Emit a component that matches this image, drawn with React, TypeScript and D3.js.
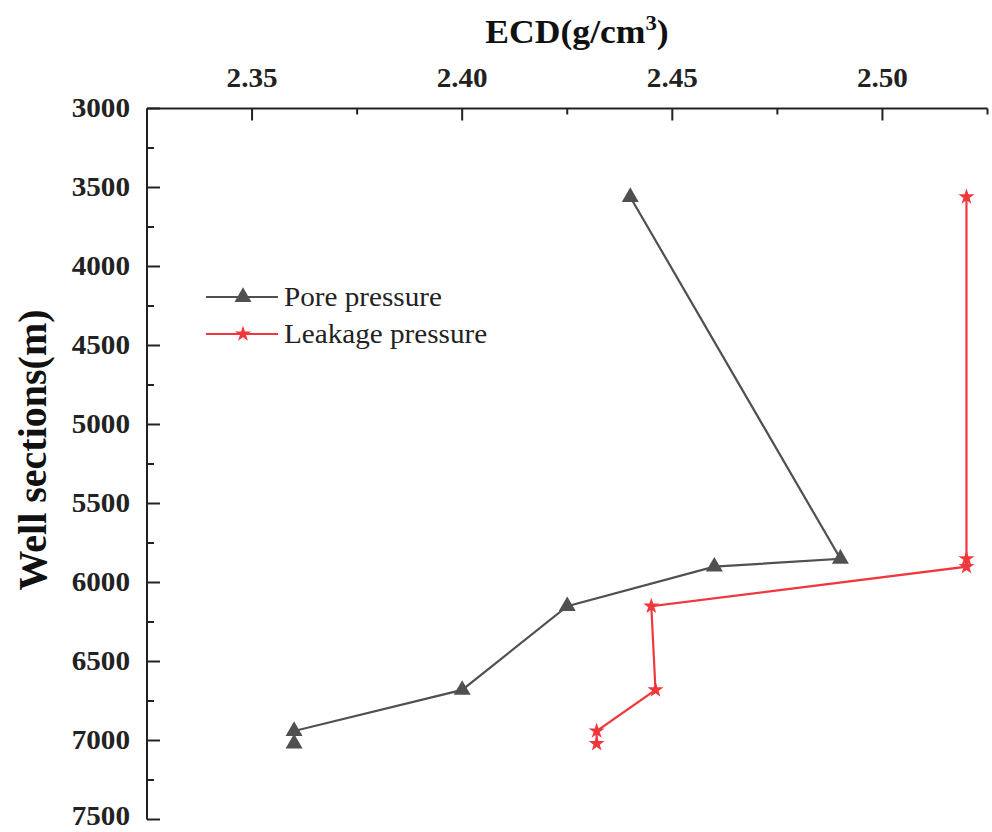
import React, { useRef, useEffect } from "react";
import * as d3 from "d3";

// depth (m) of each reading, same for both series
const poreDepth = [3560, 5850, 5900, 6150, 6680, 6940, 7020];
const poreEcd = [2.44, 2.49, 2.46, 2.425, 2.4, 2.36, 2.36];
const leakDepth = [3560, 5850, 5900, 6150, 6680, 6940, 7020];
const leakEcd = [2.52, 2.52, 2.52, 2.445, 2.446, 2.432, 2.432];

const xTicks = [2.35, 2.4, 2.45, 2.5];
const yTicks = [3000, 3500, 4000, 4500, 5000, 5500, 6000, 6500, 7000, 7500];

const seriesNames = ["Pore pressure", "Leakage pressure"];
const GREY = "#505050";
const RED = "#f0383c";
const STRETCH = 1.08; // source text is a bit wide

function App() {
  const ref = useRef<SVGSVGElement>(null);

  useEffect(() => {
    const width = 992;
    const height = 832;
    const left = 147;
    const top = 108.5;
    const bottom = 819.5;

    const svg = d3.select(ref.current);
    svg.selectAll("*").remove();

    const x = d3.scaleLinear().domain([2.325, 2.525]).range([left, 987.5]);
    const y = d3.scaleLinear().domain([3000, 7500]).range([top, bottom]);

    const font = "'Liberation Serif', 'Times New Roman', serif";
    const at = (px: number, py: number) =>
      `translate(${px},${py}) scale(${STRETCH},1)`;

    // top axis
    const g = svg.append("g").attr("font-family", font);
    g.append("line")
      .attr("x1", left).attr("x2", x(2.525))
      .attr("y1", top).attr("y2", top)
      .attr("stroke", "#222").attr("stroke-width", 2);
    const xMinor = d3.range(0, 9).map((i) => 2.325 + i * 0.025);
    xMinor.forEach((v) => {
      const major = xTicks.some((t) => Math.abs(t - v) < 1e-6);
      g.append("line")
        .attr("x1", x(v)).attr("x2", x(v))
        .attr("y1", top).attr("y2", top + (major ? 12 : 6))
        .attr("stroke", "#222").attr("stroke-width", 2);
    });
    g.selectAll(".xt")
      .data(xTicks)
      .enter()
      .append("text")
      .attr("transform", (d) => at(x(d), 87))
      .attr("text-anchor", "middle")
      .attr("font-size", 27)
      .attr("font-weight", "bold")
      .attr("fill", "#222")
      .text((d) => d.toFixed(2));

    g.append("text")
      .attr("transform", at(577, 43))
      .attr("text-anchor", "middle")
      .attr("font-size", 33)
      .attr("font-weight", "bold")
      .attr("fill", "#111")
      .call((t) => {
        t.append("tspan").text("ECD(g/cm");
        t.append("tspan").attr("font-size", 21).attr("dy", -13).text("3");
        t.append("tspan").attr("dy", 13).text(")");
      });

    // left axis
    g.append("line")
      .attr("x1", left).attr("x2", left)
      .attr("y1", top).attr("y2", bottom)
      .attr("stroke", "#222").attr("stroke-width", 2);
    d3.range(3000, 7501, 250).forEach((v) => {
      const major = v % 500 === 0;
      g.append("line")
        .attr("x1", left).attr("x2", left + (major ? 13 : 7))
        .attr("y1", y(v)).attr("y2", y(v))
        .attr("stroke", "#222").attr("stroke-width", 2);
    });
    g.selectAll(".yt")
      .data(yTicks)
      .enter()
      .append("text")
      // last label sits on the page edge, keep it inside
      .attr("transform", (d) => at(130, Math.min(y(d), 816)))
      .attr("dy", "0.32em")
      .attr("text-anchor", "end")
      .attr("font-size", 27)
      .attr("font-weight", "bold")
      .attr("fill", "#222")
      .text((d) => d);

    g.append("text")
      .attr("transform", `translate(46,450) rotate(-90)`)
      .attr("text-anchor", "middle")
      .attr("font-size", 40)
      .attr("font-weight", "bold")
      .attr("fill", "#111")
      .text("Well sections(m)");

    // series
    const line = d3
      .line<[number, number]>()
      .x((d) => x(d[0]))
      .y((d) => y(d[1]));

    const tri = d3.symbol().type(d3.symbolTriangle).size(125);
    const star = d3.symbol().type(d3.symbolStar).size(80);

    const series = [
      { pts: poreEcd.map((v, i) => [v, poreDepth[i]] as [number, number]), color: GREY, sym: tri },
      { pts: leakEcd.map((v, i) => [v, leakDepth[i]] as [number, number]), color: RED, sym: star },
    ];

    series.forEach((s) => {
      svg.append("path")
        .datum(s.pts)
        .attr("fill", "none")
        .attr("stroke", s.color)
        .attr("stroke-width", 2.2)
        .attr("d", line);
      svg.append("g")
        .selectAll("path")
        .data(s.pts)
        .enter()
        .append("path")
        .attr("transform", (d) => `translate(${x(d[0])},${y(d[1])})`)
        .attr("d", s.sym())
        .attr("fill", s.color);
    });

    // legend
    const lg = svg.append("g").attr("font-family", font);
    series.forEach((s, i) => {
      const ly = 297 + i * 37;
      lg.append("line")
        .attr("x1", 206).attr("x2", 278)
        .attr("y1", ly).attr("y2", ly)
        .attr("stroke", s.color).attr("stroke-width", 2.2);
      lg.append("path")
        .attr("transform", `translate(243,${ly})`)
        .attr("d", s.sym())
        .attr("fill", s.color);
      lg.append("text")
        .attr("transform", at(284, ly))
        .attr("dy", "0.32em")
        .attr("font-size", 27)
        .attr("fill", "#222")
        .text(seriesNames[i]);
    });

    svg.attr("viewBox", [0, 0, width, height]);
  }, []);

  return (
    <svg
      ref={ref}
      width={992}
      height={832}
      style={{ position: "absolute", left: 0, top: 0, background: "#fff" }}
    />
  );
}

export default App;
